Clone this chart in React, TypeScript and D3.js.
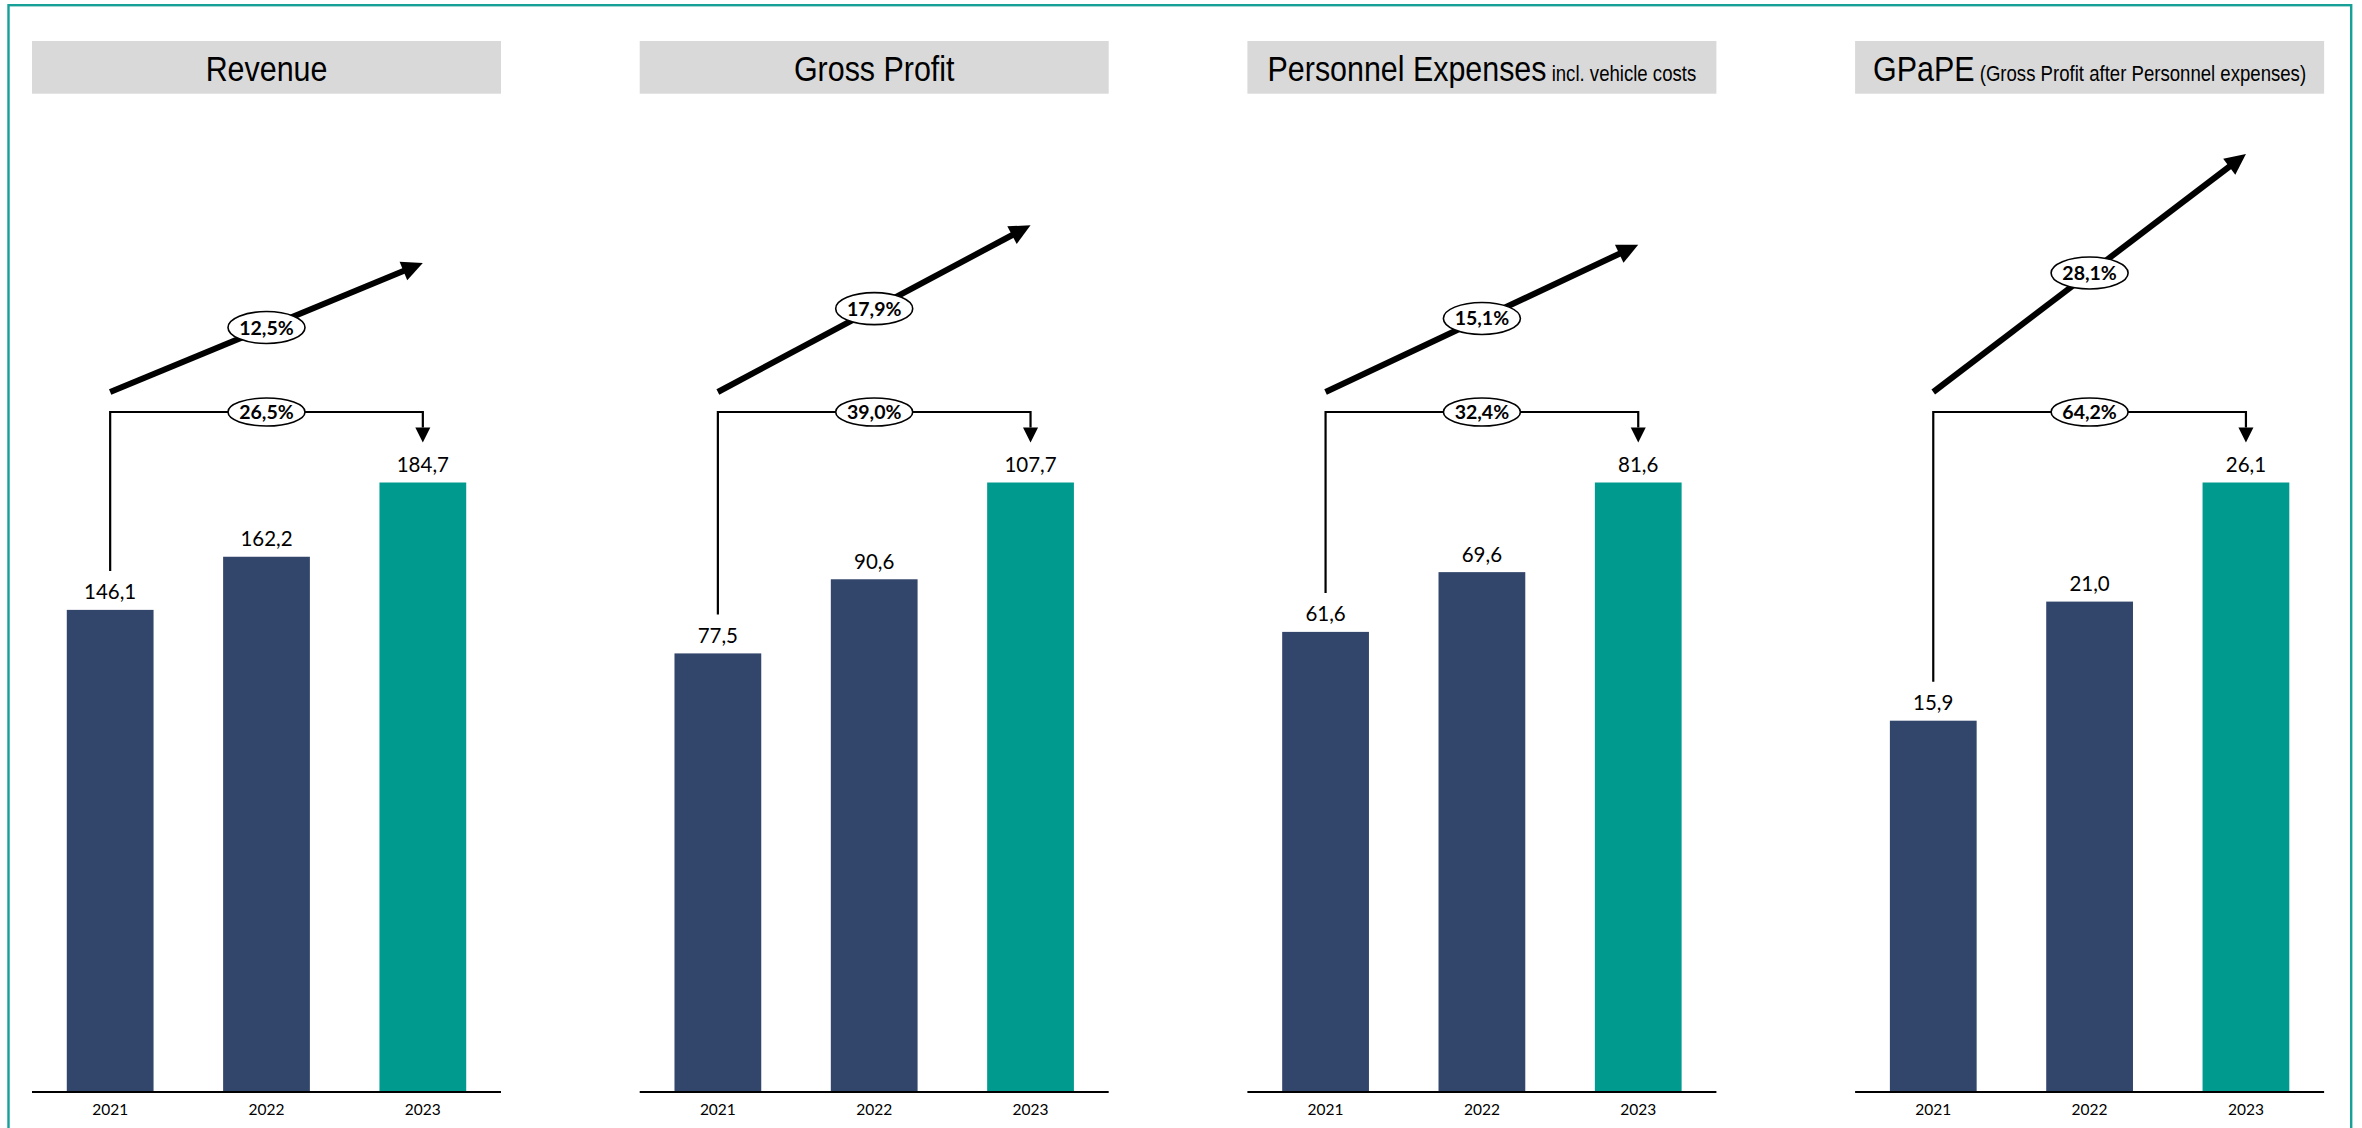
import React from "react";
import * as d3 from "d3";

const panelTitles = ["Revenue", "Gross Profit", "Personnel Expenses", "GPaPE"];
const panelSubtitles = ["", "", "incl. vehicle costs", "(Gross Profit after Personnel expenses)"];
const years = ["2021", "2022", "2023"];
const revenue = [146.1, 162.2, 184.7];
const grossProfit = [77.5, 90.6, 107.7];
const personnelExpenses = [61.6, 69.6, 81.6];
const gpape = [15.9, 21.0, 26.1];
const cagr = [12.5, 17.9, 15.1, 28.1];
const totalGrowth = [26.5, 39.0, 32.4, 64.2];

const seriesList = [revenue, grossProfit, personnelExpenses, gpape];

const W = 2362;
const H = 1128;
const NAVY = "#32456B";
const TEAL = "#009B8E";
const BORDER = "#17A097";
const HEADER_BG = "#D9D9D9";
const numFont = "Lato, Carlito, 'Open Sans', sans-serif";
const headFont = "'Liberation Sans', Arial, sans-serif";

const fmt = (v: number) => v.toFixed(1).replace(".", ",");
const fmtPct = (v: number) => v.toFixed(1).replace(".", ",") + "%";

const panelX = d3.scaleLinear().domain([0, 3]).range([32, 32 + 3 * 607.7]);
const panelWidth = 469;
const axisY = 1092;
const plotTopY = 482.5;
const riseScale = d3.scaleLinear().domain([0, 28.1]).range([41.6, 238]);

function Panel({ i }: { i: number }) {
  const values = seriesList[i];
  const x0 = panelX(i);
  const x = d3
    .scaleBand<string>()
    .domain(years)
    .range([x0, x0 + panelWidth])
    .paddingInner(0.445)
    .paddingOuter(0.2225);
  const maxV = d3.max(values) as number;
  const y = d3.scaleLinear().domain([0, maxV]).range([axisY, plotTopY]);
  const cx = (yr: string) => (x(yr) as number) + x.bandwidth() / 2;

  const x1 = cx(years[0]);
  const x2 = cx(years[1]);
  const x3 = cx(years[2]);

  const bracketY = y(maxV) - 70.5;
  const leftBottom = y(values[0]) - 39;
  const tipY = y(values[2]) - 40;
  const headLen = 15;
  const headHalf = 7.5;

  const dStartY = bracketY - 20;
  const dEndY = dStartY - riseScale(cagr[i]);
  const dx = x3 - x1;
  const dy = dEndY - dStartY;
  const len = Math.sqrt(dx * dx + dy * dy);
  const ux = dx / len;
  const uy = dy / len;
  const aLen = 21;
  const aHalf = 10;
  const bx = x3 - ux * aLen;
  const by = dEndY - uy * aLen;
  const px = -uy;
  const py = ux;
  const diagHead = `M${x3},${dEndY}L${bx + px * aHalf},${by + py * aHalf}L${bx - px * aHalf},${by - py * aHalf}Z`;
  const midX = (x1 + x3) / 2;
  const midY = (dStartY + dEndY) / 2;

  const boxH = 52.7;
  const boxY = 41;
  const tcx = x0 + panelWidth / 2;

  return (
    <g>
      <rect x={x0} y={boxY} width={panelWidth} height={boxH} fill={HEADER_BG} />
      <g transform={`translate(${tcx},${boxY + 40}) scale(0.845,1)`}>
        <text x={0} y={0} textAnchor="middle" fontFamily={headFont} fill="#000">
          <tspan fontSize={36}>{panelTitles[i]}</tspan>
          {panelSubtitles[i] ? <tspan fontSize={22}>{" " + panelSubtitles[i]}</tspan> : null}
        </text>
      </g>

      {values.map((v, k) => (
        <rect
          key={years[k]}
          x={x(years[k])}
          y={y(v)}
          width={x.bandwidth()}
          height={axisY - y(v)}
          fill={k === 2 ? TEAL : NAVY}
        />
      ))}
      {values.map((v, k) => (
        <text
          key={"l" + years[k]}
          x={cx(years[k])}
          y={y(v) - 10.5}
          textAnchor="middle"
          fontFamily={numFont}
          fontSize={20.5}
          fill="#000"
        >
          {fmt(v)}
        </text>
      ))}
      <line x1={x0} x2={x0 + panelWidth} y1={axisY} y2={axisY} stroke="#000" strokeWidth={2.2} />
      {years.map((yr) => (
        <text
          key={"y" + yr}
          x={cx(yr)}
          y={axisY + 23}
          textAnchor="middle"
          fontFamily={numFont}
          fontSize={15.5}
          fill="#000"
        >
          {yr}
        </text>
      ))}

      <path
        d={`M${x1},${leftBottom}V${bracketY}H${x3}V${tipY - headLen}`}
        fill="none"
        stroke="#000"
        strokeWidth={2.2}
      />
      <path
        d={`M${x3},${tipY}L${x3 - headHalf},${tipY - headLen}L${x3 + headHalf},${tipY - headLen}Z`}
        fill="#000"
      />
      <ellipse cx={x2} cy={bracketY} rx={38.5} ry={14} fill="#fff" stroke="#000" strokeWidth={1.6} />
      <text
        x={x2}
        y={bracketY + 7}
        textAnchor="middle"
        fontFamily={numFont}
        fontWeight={700}
        fontSize={19.5}
        fill="#000"
      >
        {fmtPct(totalGrowth[i])}
      </text>

      <line x1={x1} y1={dStartY} x2={bx + ux * 2} y2={by + uy * 2} stroke="#000" strokeWidth={6} />
      <path d={diagHead} fill="#000" />
      <ellipse cx={midX} cy={midY} rx={38.5} ry={16} fill="#fff" stroke="#000" strokeWidth={1.6} />
      <text
        x={midX}
        y={midY + 7}
        textAnchor="middle"
        fontFamily={numFont}
        fontWeight={700}
        fontSize={19.5}
        fill="#000"
      >
        {fmtPct(cagr[i])}
      </text>
    </g>
  );
}

export default function App() {
  return (
    <svg
      width={W}
      height={H}
      viewBox={`0 0 ${W} ${H}`}
      style={{ position: "absolute", left: 0, top: 0, background: "#fff" }}
    >
      <rect x={0} y={0} width={W} height={H} fill="#fff" />
      <rect x={8.5} y={5.2} width={2342.7} height={1300} fill="none" stroke={BORDER} strokeWidth={2.4} />
      {panelTitles.map((_, i) => (
        <Panel key={i} i={i} />
      ))}
    </svg>
  );
}
